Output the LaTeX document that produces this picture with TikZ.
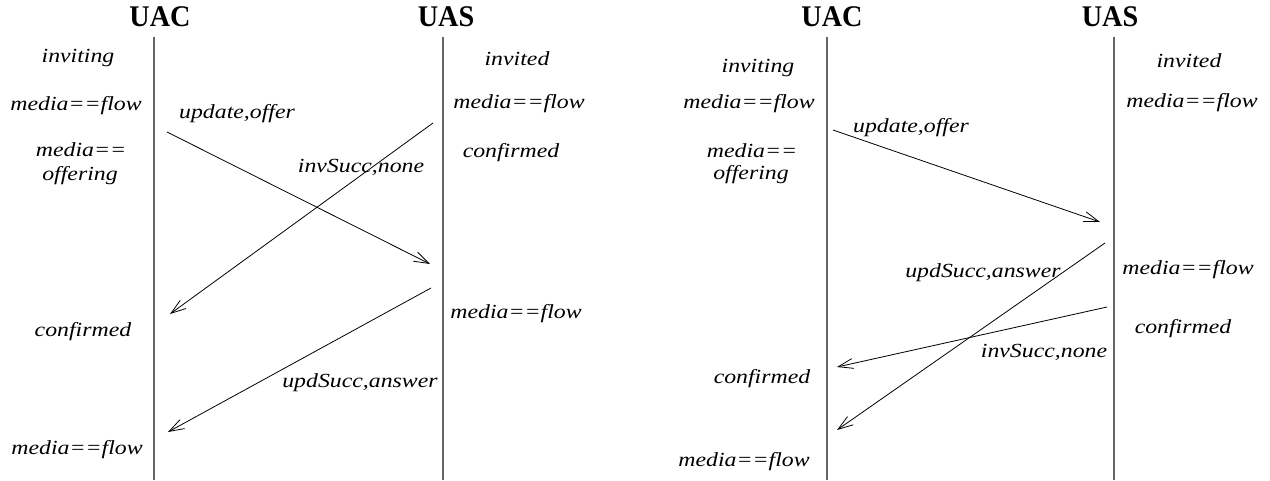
\documentclass[tikz,border=0pt]{standalone}
\usepackage{fontspec}
\setmainfont{Liberation Serif}
\usetikzlibrary{arrows.meta}
\begin{document}
\begin{tikzpicture}[x=1pt,y=-1pt,
  title/.style={font=\fontsize{30}{32}\selectfont\bfseries, inner sep=0pt, anchor=base, xscale=0.94},
  lbl/.style={font=\fontsize{20}{23}\selectfont\itshape, inner sep=0pt, anchor=base, align=center, xscale=1.19},
  life/.style={draw=black!60, line width=1.6pt},
  msg/.style={draw=black, line width=0.8pt, -{Straight Barb[length=15pt,width=10pt,line width=0.8pt]}}]
\useasboundingbox (0,0) rectangle (1270,480);
% ---------- left panel ----------
\node[title] (lUAC) at (160,26) {UAC};
\node[title] (lUAS) at (446,26) {UAS};
\coordinate (lUACt) at (154,37); \coordinate (lUACb) at (154,480);
\coordinate (lUASt) at (443,37); \coordinate (lUASb) at (443,480);
\draw[life] (lUACt) -- (lUACb);
\draw[life] (lUASt) -- (lUASb);
\node[lbl] (l1) at (78,62) {inviting};
\node[lbl] (l2) at (76,110) {media==flow};
\node[lbl] (l3a) at (81,156) {media==};
\node[lbl] (l3b) at (80,180) {offering};
\node[lbl] (l4) at (83,336) {confirmed};
\node[lbl] (l5) at (77,454) {media==flow};
\node[lbl] (r1) at (517,65) {invited};
\node[lbl] (r2) at (519,108) {media==flow};
\node[lbl] (r3) at (511,157) {confirmed};
\node[lbl] (r4) at (516,318) {media==flow};
\coordinate (a1s) at (167,132); \coordinate (a1e) at (430,264);
\coordinate (a2s) at (433,123); \coordinate (a2e) at (170,314);
\coordinate (a3s) at (431,288); \coordinate (a3e) at (168,432);
\draw[msg] (a1s) -- (a1e);
\draw[msg] (a2s) -- (a2e);
\draw[msg] (a3s) -- (a3e);
\node[lbl] (m1) at (237,118) {update,offer};
\node[lbl] (m2) at (361,172) {invSucc,none};
\node[lbl] (m3) at (360,387) {updSucc,answer};
% ---------- right panel ----------
\node[title] (rUAC) at (832,26) {UAC};
\node[title] (rUAS) at (1110,26) {UAS};
\coordinate (rUACt) at (827,37); \coordinate (rUACb) at (827,480);
\coordinate (rUASt) at (1114,37); \coordinate (rUASb) at (1114,480);
\draw[life] (rUACt) -- (rUACb);
\draw[life] (rUASt) -- (rUASb);
\node[lbl] (L1) at (758,72) {inviting};
\node[lbl] (L2) at (749,108) {media==flow};
\node[lbl] (L3a) at (752,157) {media==};
\node[lbl] (L3b) at (751,179) {offering};
\node[lbl] (L4) at (762,383) {confirmed};
\node[lbl] (L5) at (744,466) {media==flow};
\node[lbl] (R1) at (1189,67) {invited};
\node[lbl] (R2) at (1192,107) {media==flow};
\node[lbl] (R3) at (1188,274) {media==flow};
\node[lbl] (R4) at (1183,333) {confirmed};
\coordinate (b1s) at (833,130); \coordinate (b1e) at (1100,222);
\coordinate (b2s) at (1105,243); \coordinate (b2e) at (837,430);
\coordinate (b3s) at (1107,307); \coordinate (b3e) at (837,367);
\draw[msg] (b1s) -- (b1e);
\draw[msg] (b2s) -- (b2e);
\draw[msg] (b3s) -- (b3e);
\node[lbl] (n1) at (911,132) {update,offer};
\node[lbl] (n2) at (983,277) {updSucc,answer};
\node[lbl] (n3) at (1044,357) {invSucc,none};
\end{tikzpicture}
\end{document}
